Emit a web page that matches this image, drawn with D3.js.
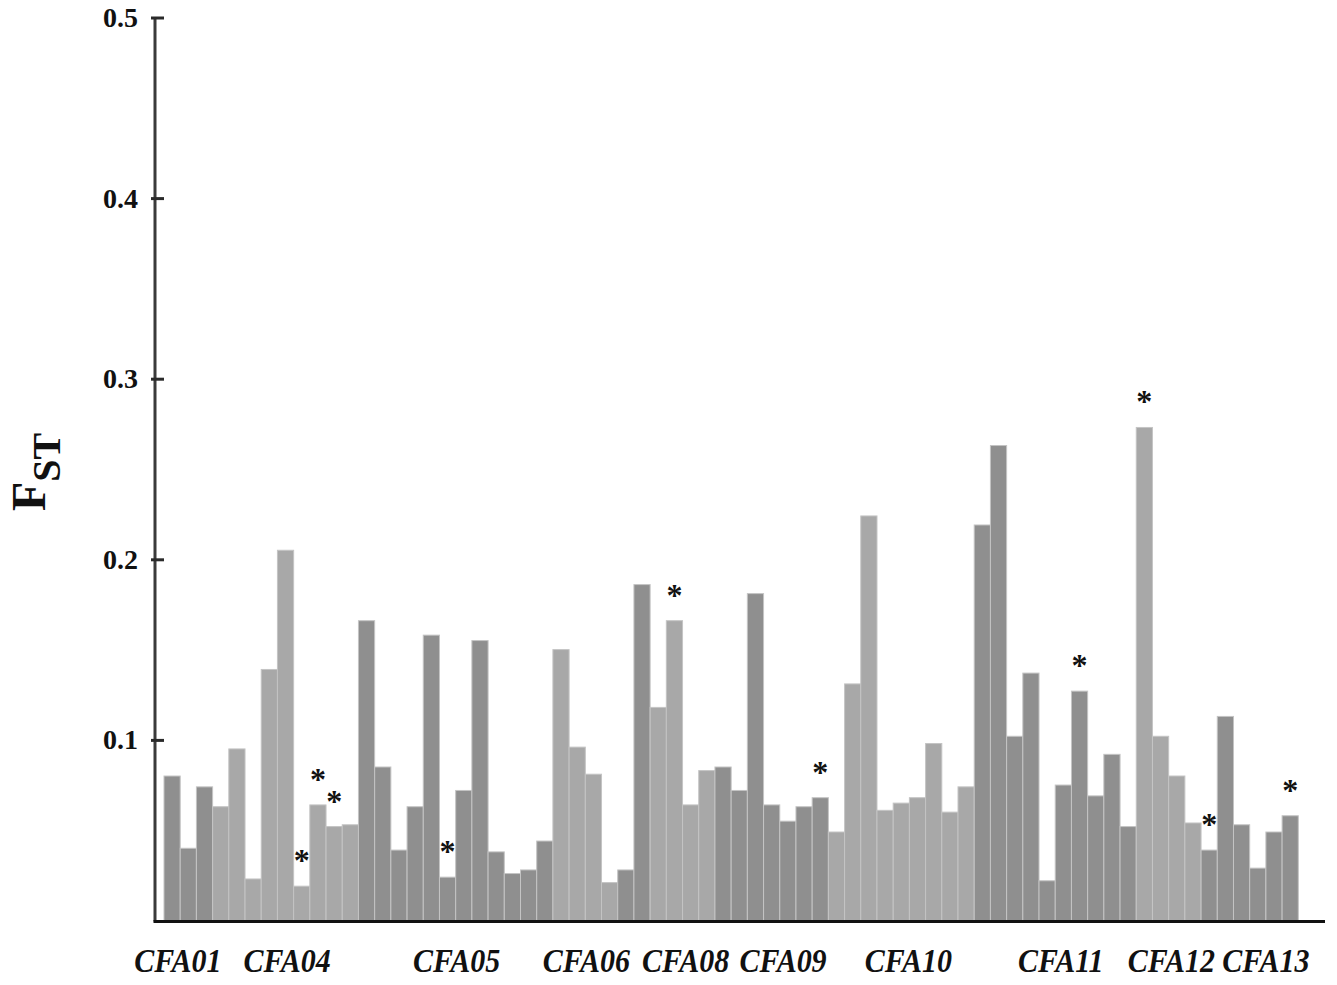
<!DOCTYPE html>
<html>
<head>
<meta charset="utf-8">
<script src="https://cdn.jsdelivr.net/npm/d3@7"></script>
<style>
  html, body { margin: 0; padding: 0; background: #fff; }
  svg text { font-family: "Liberation Serif", "Times New Roman", serif; font-weight: bold; }
</style>
</head>
<body>
<svg id="chart" width="1337" height="985"></svg>
<script>
// FST value for each locus comparison, in plotting order
const fstValues = [
  0.080, 0.040, 0.074, 0.063, 0.095, 0.023, 0.139, 0.205, 0.019, 0.064,
  0.052, 0.053, 0.166, 0.085, 0.039, 0.063, 0.158, 0.024, 0.072, 0.155,
  0.038, 0.026, 0.028, 0.044, 0.150, 0.096, 0.081, 0.021, 0.028, 0.186,
  0.118, 0.166, 0.064, 0.083, 0.085, 0.072, 0.181, 0.064, 0.055, 0.063,
  0.068, 0.049, 0.131, 0.224, 0.061, 0.065, 0.068, 0.098, 0.060, 0.074,
  0.219, 0.263, 0.102, 0.137, 0.022, 0.075, 0.127, 0.069, 0.092, 0.052,
  0.273, 0.102, 0.080, 0.054, 0.039, 0.113, 0.053, 0.029, 0.049, 0.058
];
// shade group of each bar: "d" = dark grey, "l" = light grey
const shadeGroups = (
  "ddd" + "lllllllll" + "dddddddddddd" + "llll" + "dd" + "llll" +
  "ddddddd" + "lllllllll" + "dddddddddd" + "llll" + "dddddd"
).split("");
// bars flagged as significant (index into fstValues)
const significant = [8, 9, 10, 17, 31, 40, 56, 60, 64, 69];
// chromosome labels and their position along the bar sequence (in bar units)
const chromLabels = ["CFA01", "CFA04", "CFA05", "CFA06", "CFA08", "CFA09", "CFA10", "CFA11", "CFA12", "CFA13"];
const chromPositions = [0.85, 7.6, 18.06, 26.07, 32.19, 38.2, 45.93, 55.34, 62.17, 68.0];
const yTicks = [0.1, 0.2, 0.3, 0.4, 0.5];

const svg = d3.select("#chart");
const axisX = 155, baseY = 921.5;

const x = d3.scaleBand()
  .domain(d3.range(fstValues.length))
  .range([164, 1298.3])
  .padding(0);
const xPos = d3.scaleLinear().domain([0, fstValues.length]).range([164, 1298.3]);
const y = d3.scaleLinear().domain([0, 0.5]).range([920.5, 17.5]);

const shade = { d: "#8f8f8f", l: "#a8a8a8" };

// bars
svg.append("g")
  .selectAll("rect")
  .data(fstValues)
  .join("rect")
  .attr("x", (d, i) => x(i))
  .attr("y", d => y(d))
  .attr("width", x.bandwidth())
  .attr("height", d => y(0) - y(d))
  .attr("fill", (d, i) => shade[shadeGroups[i]])
  .attr("stroke", "#c4c4c4")
  .attr("stroke-width", 1);

// significance markers
svg.append("g")
  .selectAll("text")
  .data(significant)
  .join("text")
  .attr("x", i => x(i) + x.bandwidth() / 2)
  .attr("y", i => y(fstValues[i]) - 15)
  .attr("text-anchor", "middle")
  .attr("font-size", 32)
  .attr("fill", "#111")
  .text("*");

// y axis
const yAxis = svg.append("g")
  .attr("transform", `translate(${axisX},0)`)
  .call(d3.axisLeft(y).tickValues(yTicks).tickFormat(d3.format(".1f")).tickSize(-9).tickPadding(17));
yAxis.select(".domain")
  .attr("d", `M0,${y(0.5)}V${baseY}`)
  .attr("stroke", "#3a3a3a")
  .attr("stroke-width", 3);
yAxis.selectAll(".tick line")
  .attr("x1", -4).attr("x2", 9)
  .attr("stroke", "#2a2a2a")
  .attr("stroke-width", 3);
yAxis.selectAll(".tick text")
  .attr("font-size", 28)
  .attr("fill", "#111")
  .attr("font-family", "Liberation Serif, serif")
  .attr("font-weight", "bold");

// x axis baseline
svg.append("line")
  .attr("x1", axisX - 1.5).attr("x2", 1325)
  .attr("y1", baseY).attr("y2", baseY)
  .attr("stroke", "#111")
  .attr("stroke-width", 3);

// chromosome labels
svg.append("g")
  .selectAll("text")
  .data(chromLabels)
  .join("text")
  .attr("transform", (d, i) => `translate(${xPos(chromPositions[i])},972) scale(1,1.1)`)
  .attr("text-anchor", "middle")
  .attr("font-size", 30)
  .attr("font-style", "italic")
  .attr("fill", "#111")
  .text(d => d);

// y axis title: F with subscript ST
const title = svg.append("text")
  .attr("transform", "translate(45,511) rotate(-90)")
  .attr("text-anchor", "start")
  .attr("fill", "#111");
title.append("tspan").attr("font-size", 48).text("F");
title.append("tspan").attr("font-size", 40).attr("dy", 15).text("ST");
</script>
</body>
</html>
